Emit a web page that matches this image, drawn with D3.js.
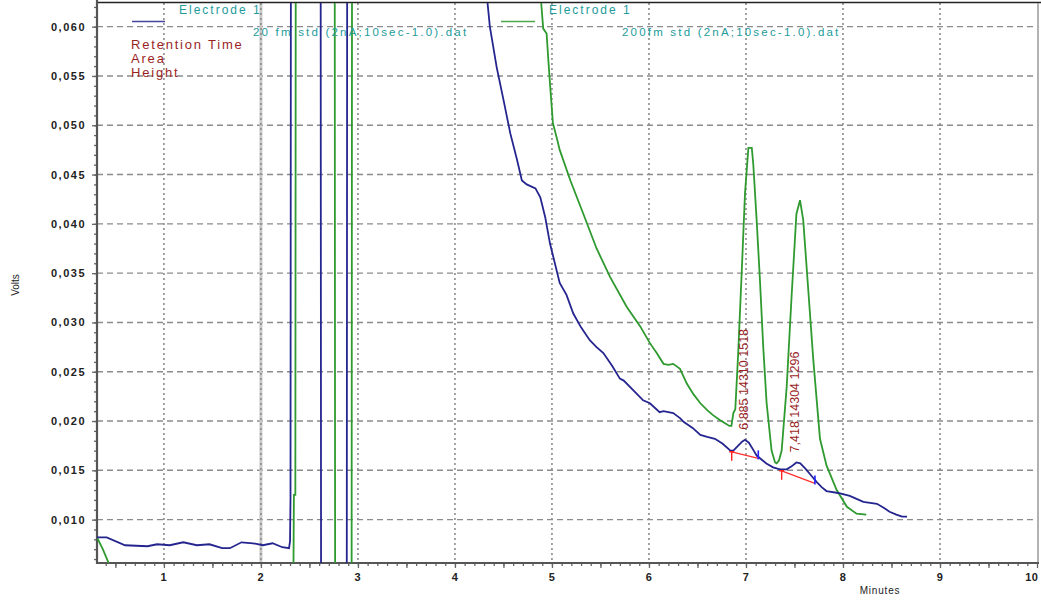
<!DOCTYPE html>
<html>
<head>
<meta charset="utf-8">
<script src="https://cdn.jsdelivr.net/npm/d3@7"></script>
<style>
  body { margin: 0; background: #fff; }
  text { font-family: "Liberation Sans", Arial, sans-serif; }
</style>
</head>
<body>
<svg id="chart" width="1041" height="603"></svg>
<script>
let width = 1041, height = 603;

// 20 fm std trace (blue), minutes / volts
let blueTime = [0.31, 0.41, 0.60, 0.83, 0.93, 1.06, 1.20, 1.34, 1.47, 1.60, 1.68, 1.80, 1.92, 2.02, 2.12, 2.22, 2.29, 2.30, 2.305, 2.31,
    2.615, 2.62, 2.885, 2.89, 4.30, 4.36, 4.43, 4.50, 4.57, 4.64, 4.69, 4.74, 4.83, 4.88, 4.93, 4.98, 5.08, 5.15, 5.22, 5.30,
    5.39, 5.46, 5.53, 5.62, 5.70, 5.74, 5.87, 5.94, 6.01, 6.11, 6.15, 6.25, 6.32, 6.36, 6.45, 6.53, 6.60, 6.68, 6.76, 6.84,
    6.87, 6.92, 6.96, 6.99, 7.03, 7.08, 7.11, 7.16, 7.21, 7.28, 7.35, 7.42, 7.47, 7.52, 7.56, 7.61, 7.67, 7.73, 7.78, 7.83,
    7.95, 8.07, 8.14, 8.21, 8.28, 8.35, 8.42, 8.48, 8.55, 8.61, 8.66];
let blueVolts = [0.0082, 0.0082, 0.0074, 0.0073, 0.0075, 0.0074, 0.0077, 0.0074, 0.0075, 0.0071, 0.0071, 0.0077, 0.0076, 0.0074, 0.0076, 0.0072, 0.0071, 0.0078, 0.0122, 0.080,
    0.080, 0.003, 0.003, 0.080, 0.066, 0.0600, 0.0559, 0.0526, 0.0492, 0.0465, 0.0444, 0.0440, 0.0436, 0.0427, 0.0407, 0.0380, 0.0340, 0.0328, 0.0309, 0.0295,
    0.0282, 0.0275, 0.0269, 0.0256, 0.0243, 0.0241, 0.0228, 0.0221, 0.0218, 0.0209, 0.0210, 0.0208, 0.0203, 0.0199, 0.0193, 0.0186, 0.0184, 0.0182, 0.0177, 0.0170,
    0.0170, 0.0175, 0.0179, 0.0181, 0.0178, 0.0170, 0.0165, 0.0161, 0.0157, 0.0153, 0.0151, 0.0151, 0.0154, 0.0158, 0.0157, 0.0152, 0.0145, 0.0138, 0.0133, 0.0129,
    0.0127, 0.0124, 0.0121, 0.0118, 0.0117, 0.0116, 0.0112, 0.0108, 0.0105, 0.0103, 0.0103];

// 200 fm std trace (green)
let greenTime = [0.31, 0.37, 0.43, 0.45, 2.335, 2.34, 2.355, 2.36, 2.76, 2.765, 2.935, 2.94, 4.87, 4.89, 4.91, 4.945, 4.96, 4.98, 5.01, 5.05,
    5.08, 5.19, 5.32, 5.46, 5.60, 5.77, 5.91, 6.01, 6.08, 6.15, 6.20, 6.25, 6.32, 6.39, 6.46, 6.53, 6.60, 6.66, 6.73, 6.78,
    6.83, 6.85, 6.87, 6.89, 6.92, 6.96, 6.99, 7.025, 7.06, 7.075, 7.11, 7.144, 7.178, 7.213, 7.264, 7.30, 7.316, 7.34, 7.368, 7.42,
    7.47, 7.52, 7.557, 7.59, 7.64, 7.694, 7.763, 7.83, 7.935, 8.04, 8.14, 8.24];
let greenVolts = [0.0082, 0.0070, 0.0056, 0.0040, 0.0040, 0.0125, 0.0125, 0.080, 0.080, 0.003, 0.003, 0.080, 0.066, 0.0623, 0.0598, 0.0593, 0.0570, 0.0542, 0.0502, 0.0487,
    0.0475, 0.0444, 0.0411, 0.0375, 0.0346, 0.0316, 0.0296, 0.0279, 0.0269, 0.0258, 0.0257, 0.0258, 0.0253, 0.0238, 0.0227, 0.0218, 0.0211, 0.0206, 0.0201, 0.0198,
    0.0195, 0.0195, 0.0208, 0.0212, 0.0269, 0.0360, 0.0431, 0.0477, 0.0477, 0.0461, 0.0404, 0.0343, 0.0275, 0.0218, 0.0170, 0.0158, 0.0157, 0.0160, 0.0170, 0.0235,
    0.0326, 0.0410, 0.0424, 0.0404, 0.0336, 0.0262, 0.0182, 0.0155, 0.0130, 0.0113, 0.0106, 0.0105];

// integrated peaks
let peakTimes = ["6,885", "7,418"];
let peakAreas = [14310, 14304];
let peakHeights = [1518, 1296];
let baseStartTime = [6.853, 7.368];
let baseStartVolts = [0.01688, 0.01495];
let baseEndTime = [7.127, 7.711];
let baseEndVolts = [0.01621, 0.01367];

let xTicks = [1, 2, 3, 4, 5, 6, 7, 8, 9, 10];
let yTicks = [0.010, 0.015, 0.020, 0.025, 0.030, 0.035, 0.040, 0.045, 0.050, 0.055, 0.060];

let seriesNames = ["20 fm std (2nA;10sec-1.0).dat", "200fm std (2nA;10sec-1.0).dat"];

let blueColor = "#25258f", greenColor = "#2f9a2f", teal = "#239b9b", darkRed = "#9a1f1f";

let plotLeft = 97, plotRight = 1037, plotTop = 3, plotBottom = 563;

let x = d3.scaleLinear().domain([0.3, 10]).range([96, 1037]);
let y = d3.scaleLinear().domain([0.0056, 0.0624]).range([563, 3]);

let svg = d3.select('#chart');

svg.append('defs').append('clipPath').attr('id', 'plot')
    .append('rect').attr('x', plotLeft).attr('y', plotTop)
    .attr('width', plotRight - plotLeft).attr('height', plotBottom - plotTop);

// grid
svg.append('g').selectAll('line').data(yTicks).enter().append('line')
    .attr('x1', plotLeft).attr('x2', plotRight)
    .attr('y1', (d) => y(d)).attr('y2', (d) => y(d))
    .attr('stroke', '#8c8c8c').attr('stroke-width', 1.4).attr('stroke-dasharray', '6,4');

svg.append('line')
    .attr('x1', x(2)).attr('x2', x(2)).attr('y1', plotTop).attr('y2', plotBottom)
    .attr('stroke', '#c8c8c8').attr('stroke-width', 3);

svg.append('g').selectAll('line').data(xTicks.slice(0, 9)).enter().append('line')
    .attr('x1', (d) => x(d)).attr('x2', (d) => x(d))
    .attr('y1', plotTop).attr('y2', plotBottom)
    .attr('stroke', '#8c8c8c').attr('stroke-width', 1.6).attr('stroke-dasharray', '2,3');

// frame
svg.append('line').attr('x1', plotLeft).attr('x2', width).attr('y1', 2.5).attr('y2', 2.5)
    .attr('stroke', '#222').attr('stroke-width', 1.5);
svg.append('line').attr('x1', plotRight + 1).attr('x2', plotRight + 1).attr('y1', plotTop).attr('y2', plotBottom)
    .attr('stroke', '#999').attr('stroke-width', 1.5);

// axes
let fmt = (d) => d3.format('.3f')(d).replace('.', ',');

let yMinor = svg.append('g').attr('transform', 'translate(' + plotLeft + ',0)')
    .call(d3.axisLeft(y).tickValues(d3.range(6, 63).map((d) => d / 1000)).tickSize(3).tickFormat(''));
let yAxis = svg.append('g').attr('transform', 'translate(' + plotLeft + ',0)')
    .call(d3.axisLeft(y).tickValues(yTicks).tickSize(5).tickPadding(6).tickFormat(fmt));

let xMinor = svg.append('g').attr('transform', 'translate(0,' + plotBottom + ')')
    .call(d3.axisBottom(x).tickValues(d3.range(4, 100).map((d) => d / 10)).tickSize(3).tickFormat(''));
let xHalf = svg.append('g').attr('transform', 'translate(0,' + plotBottom + ')')
    .call(d3.axisBottom(x).tickValues(d3.range(0.5, 10, 1)).tickSize(5).tickFormat(''));
let xAxis = svg.append('g').attr('transform', 'translate(0,' + plotBottom + ')')
    .call(d3.axisBottom(x).tickValues(xTicks).tickSize(5).tickPadding(5).tickFormat(d3.format('d')));

[yMinor, yAxis, xMinor, xHalf, xAxis].forEach((g) => {
    g.select('.domain').remove();
    g.selectAll('.tick line').attr('stroke', '#666').attr('stroke-width', 1.3);
    g.selectAll('text').attr('fill', '#222').attr('font-size', 11).attr('font-weight', 'bold')
        .attr('letter-spacing', 1.5);
});
// last label sits right on the window edge
xAxis.selectAll('.tick text').filter((d) => d === 10)
    .attr('text-anchor', 'end').attr('dx', 1).attr('letter-spacing', 0.5);

svg.append('line').attr('x1', plotLeft).attr('x2', plotLeft).attr('y1', 0).attr('y2', plotBottom + 1)
    .attr('stroke', '#555').attr('stroke-width', 2.2);
svg.append('line').attr('x1', plotLeft - 1).attr('x2', plotRight + 2).attr('y1', plotBottom).attr('y2', plotBottom)
    .attr('stroke', '#555').attr('stroke-width', 2.2);

svg.append('text').attr('transform', 'translate(19,285) rotate(-90)')
    .attr('text-anchor', 'middle').attr('font-size', 10).attr('fill', '#222')
    .text('Volts');
svg.append('text').attr('x', 880).attr('y', 594)
    .attr('text-anchor', 'middle').attr('font-size', 10).attr('fill', '#222').attr('letter-spacing', 0.8)
    .text('Minutes');

// traces
let line = d3.line().x((d) => x(d[0])).y((d) => y(d[1]));
let plot = svg.append('g').attr('clip-path', 'url(#plot)');

plot.append('path').datum(d3.zip(greenTime, greenVolts))
    .attr('d', line).attr('fill', 'none').attr('stroke', greenColor).attr('stroke-width', 1.8);
plot.append('path').datum(d3.zip(blueTime, blueVolts))
    .attr('d', line).attr('fill', 'none').attr('stroke', blueColor).attr('stroke-width', 1.8);

// peak baselines and markers
let peaks = peakTimes.map((t, i) => ({
    label: t + "  " + peakAreas[i] + "  " + peakHeights[i],
    x0: baseStartTime[i], y0: baseStartVolts[i], x1: baseEndTime[i], y1: baseEndVolts[i]
}));

peaks.forEach((p) => {
    plot.append('line')
        .attr('x1', x(p.x0)).attr('y1', y(p.y0)).attr('x2', x(p.x1)).attr('y2', y(p.y1))
        .attr('stroke', '#ff3030').attr('stroke-width', 1.3);
    plot.append('path')
        .attr('d', 'M' + (x(p.x0) - 2.5) + ',' + y(p.y0) + 'h5M' + x(p.x0) + ',' + y(p.y0) + 'v9')
        .attr('fill', 'none').attr('stroke', '#ff2020').attr('stroke-width', 1.4);
    plot.append('path')
        .attr('d', 'M' + x(p.x1) + ',' + (y(p.y1) + 1) + 'v-9')
        .attr('fill', 'none').attr('stroke', '#2020ff').attr('stroke-width', 1.6);

    // label above the apex of the blue trace
    let idx = d3.range(blueTime.length).filter((i) => blueTime[i] > p.x0 && blueTime[i] < p.x1);
    let top_i = idx.reduce((a, b) => blueVolts[b] > blueVolts[a] ? b : a);
    svg.append('text')
        .attr('transform', 'translate(' + (x(blueTime[top_i]) + 3) + ',' + (y(blueVolts[top_i]) - 10) + ') rotate(-90)')
        .attr('font-size', 12.5).attr('fill', darkRed)
        .text(p.label);
});

// legend
let legend = svg.append('g');
[[132, 165, blueColor, 179, 253], [501, 535, greenColor, 549, 622]].forEach((l, i) => {
    legend.append('line').attr('x1', l[0]).attr('x2', l[1]).attr('y1', 21.5).attr('y2', 21.5)
        .attr('stroke', l[2]).attr('stroke-width', 1.6).attr('opacity', 0.85);
    legend.append('text').attr('x', l[3]).attr('y', 14).attr('font-size', 12)
        .attr('letter-spacing', 2).attr('fill', teal).text('Electrode 1');
    legend.append('text').attr('x', l[4]).attr('y', 36).attr('font-size', 11.5)
        .attr('letter-spacing', 2.2).attr('fill', teal).text(seriesNames[i]);
});

['Retention Time', 'Area', 'Height'].forEach((t, i) => {
    legend.append('text').attr('x', 131).attr('y', 49 + i * 14).attr('font-size', 13)
        .attr('letter-spacing', 1.8).attr('fill', darkRed).text(t);
});
</script>
</body>
</html>
